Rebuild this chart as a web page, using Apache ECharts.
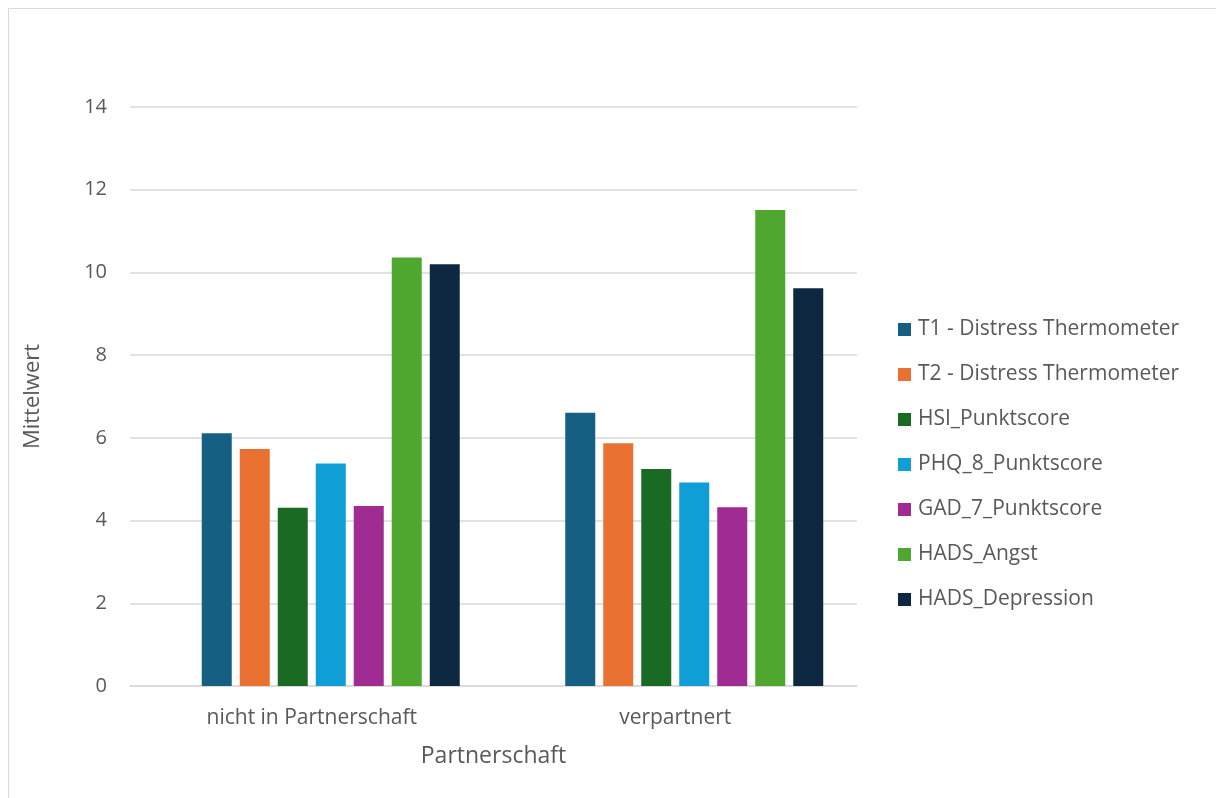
<!DOCTYPE html>
<html>
<head>
<meta charset="utf-8">
<script src="https://cdn.jsdelivr.net/npm/echarts@6/dist/echarts.min.js"></script>
<style>
  html, body { margin: 0; padding: 0; background: #ffffff; }
  #chart { width: 1216px; height: 798px; }
</style>
</head>
<body>
<div id="chart"></div>
<script>
// Gruppen auf der x-Achse
const categories = ['nicht in Partnerschaft', 'verpartnert'];

// Mittelwerte je Skala (Reihenfolge wie Kategorien)
const t1Distress = [6.11, 6.61];
const t2Distress = [5.73, 5.87];
const hsiScore = [4.31, 5.25];
const phq8Score = [5.38, 4.92];
const gad7Score = [4.35, 4.32];
const hadsAngst = [10.36, 11.51];
const hadsDepression = [10.20, 9.62];

// leere Spalte vor den Skalen (belegt einen Platz in jeder Gruppe)
const emptyColumn = [null, null];

const seriesNames = [
  'T1 - Distress Thermometer',
  'T2 - Distress Thermometer',
  'HSI_Punktscore',
  'PHQ_8_Punktscore',
  'GAD_7_Punktscore',
  'HADS_Angst',
  'HADS_Depression'
];
const seriesValues = [t1Distress, t2Distress, hsiScore, phq8Score, gad7Score, hadsAngst, hadsDepression];
const seriesColors = ['#156082', '#E97132', '#196B24', '#0F9ED5', '#A02B93', '#4EA72E', '#0E2841'];

const yTicks = { min: 0, max: 14, interval: 2 };

const textColor = '#595959';
const fontFamily = '"Open Sans", "Noto Sans", sans-serif';

const series = [{
  name: '',
  type: 'bar',
  data: emptyColumn,
  barWidth: 30,
  barGap: '26.67%',
  silent: true
}].concat(seriesNames.map((name, i) => ({
  name: name,
  type: 'bar',
  data: seriesValues[i],
  barWidth: 30,
  barGap: '26.67%',
  itemStyle: { color: seriesColors[i] }
})));

const chart = echarts.init(document.getElementById('chart'), null, { renderer: 'canvas' });
chart.setOption({
  animation: false,
  backgroundColor: '#ffffff',
  textStyle: { fontFamily: fontFamily, color: textColor },
  graphic: [{
    type: 'rect',
    shape: { x: 8.5, y: 8.5, width: 1220, height: 800 },
    style: { fill: 'none', stroke: '#d9d9d9', lineWidth: 1 },
    silent: true
  }],
  grid: { left: 130, right: 359, top: 107, bottom: 112, containLabel: false },
  legend: {
    data: seriesNames,
    orient: 'vertical',
    left: 898,
    top: 319,
    padding: 0,
    itemWidth: 13,
    itemHeight: 13,
    itemGap: 24,
    icon: 'rect',
    textStyle: { fontSize: 21, color: textColor, fontFamily: fontFamily, lineHeight: 20, padding: [0, 0, 0, 2] }
  },
  xAxis: {
    type: 'category',
    data: categories,
    name: 'Partnerschaft',
    nameLocation: 'middle',
    nameGap: 59,
    nameTextStyle: { fontSize: 23, color: textColor, fontFamily: fontFamily },
    axisLine: { lineStyle: { color: '#d9d9d9', width: 1.5 } },
    axisTick: { show: false },
    axisLabel: { fontSize: 21, color: textColor, margin: 22, fontFamily: fontFamily }
  },
  yAxis: {
    type: 'value',
    min: yTicks.min,
    max: yTicks.max,
    interval: yTicks.interval,
    name: 'Mittelwert',
    nameLocation: 'middle',
    nameGap: 86,
    nameRotate: 90,
    nameTextStyle: { fontSize: 22, color: textColor, fontFamily: fontFamily },
    axisLine: { show: false },
    axisTick: { show: false },
    axisLabel: { fontSize: 20, color: textColor, margin: 23, fontFamily: fontFamily },
    splitLine: { lineStyle: { color: '#d9d9d9', width: 1.5 } }
  },
  series: series
});
</script>
</body>
</html>
